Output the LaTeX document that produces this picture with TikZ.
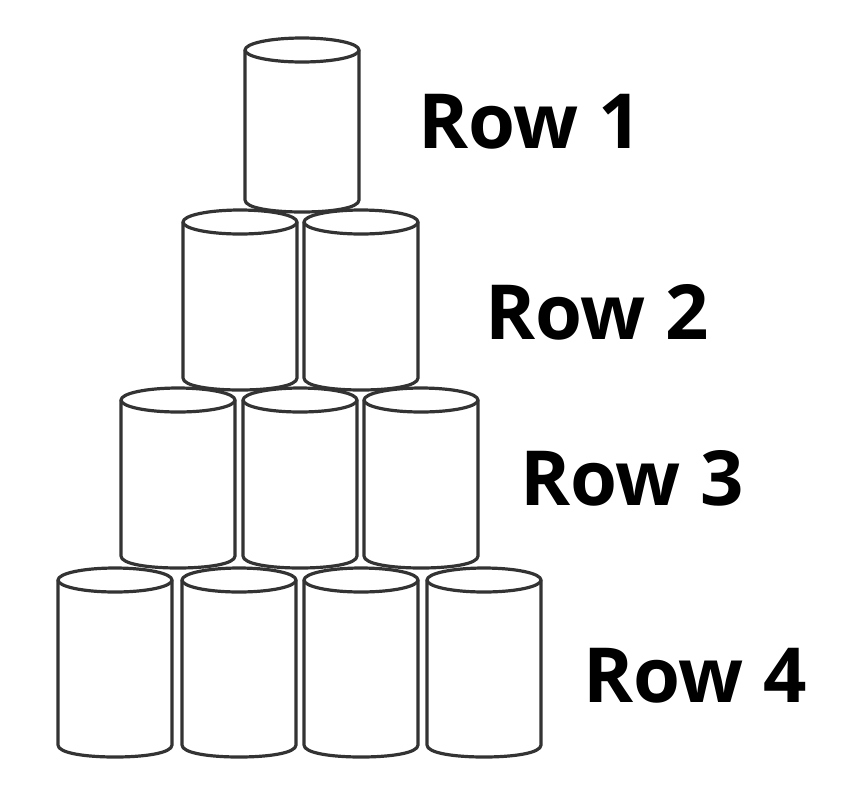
\documentclass[tikz,border=0pt]{standalone}
\usepackage{fontspec}
\setmainfont{Open Sans}
\begin{document}
\begin{tikzpicture}[x=1pt,y=-1pt,
  lbl/.style={anchor=west,font=\fontsize{76}{76}\selectfont\bfseries,inner sep=0pt},
  canline/.style={line width=3.2pt,draw=black!80,fill=white,line join=round}]
\useasboundingbox (0,0) rectangle (856,788);
\newcommand{\mycan}[4]{% name, cx, top, bottom
  \coordinate (#1) at (#2,#3);
  \filldraw[canline] (#2-57,#3) -- (#2-57,#4-12) .. controls (#2-57,#4-4) and (#2-30,#4) .. (#2,#4)
     .. controls (#2+30,#4) and (#2+57,#4-4) .. (#2+57,#4-12) -- (#2+57,#3) -- cycle;
  \filldraw[canline] (#2,#3) ellipse [x radius=57, y radius=12];
}
\mycan{c41}{115}{580}{757}
\mycan{c42}{239}{580}{757}
\mycan{c43}{361}{580}{757}
\mycan{c44}{484}{580}{757}
\mycan{c31}{178}{400}{568}
\mycan{c32}{300}{400}{568}
\mycan{c33}{421}{400}{568}
\mycan{c21}{240}{222}{390}
\mycan{c22}{361}{222}{390}
\mycan{c11}{302}{50}{212}
\node[lbl] (r1) at (418,122) {Row 1};
\node[lbl] (r2) at (485,312) {Row 2};
\node[lbl] (r3) at (520,478) {Row 3};
\node[lbl] (r4) at (583,676) {Row 4};
\end{tikzpicture}
\end{document}
